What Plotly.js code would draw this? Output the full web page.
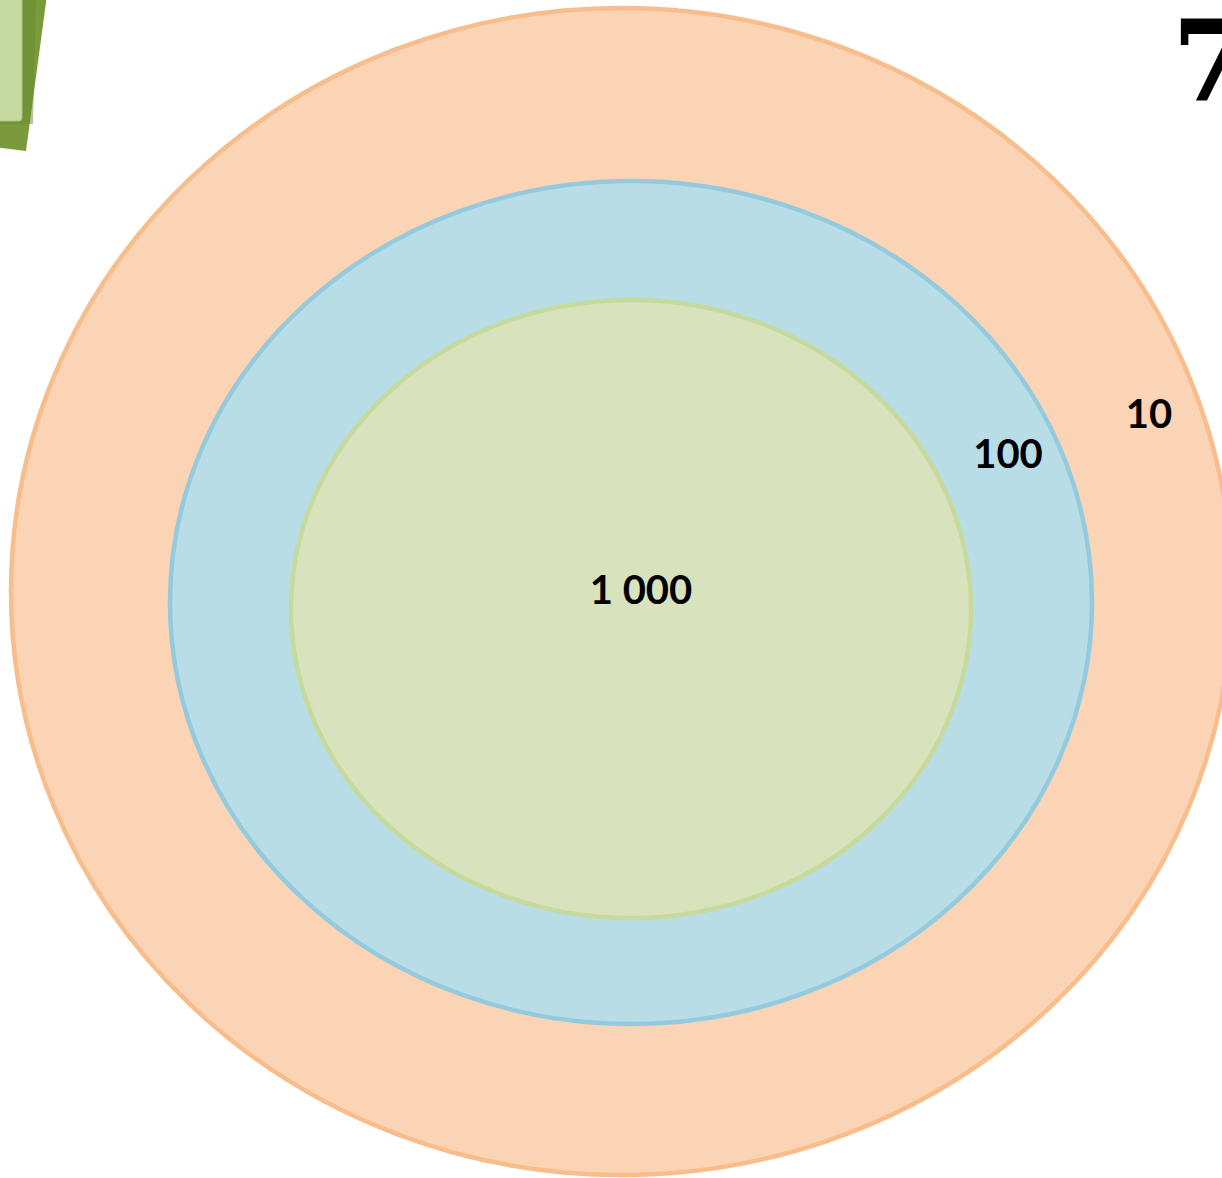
<!DOCTYPE html>
<html>
<head>
<meta charset="utf-8">
<script src="https://cdn.plot.ly/plotly-3.0.1.min.js"></script>
<style>
html,body{margin:0;padding:0;background:#fff;overflow:hidden;}
#chart{width:1222px;height:1178px;}
</style>
</head>
<body>
<div id="chart"></div>
<script>
// Nested levels (outer to inner)
const levels = ["10", "100", "1 000"];
const ellipseX0 = [11, 170, 291];
const ellipseX1 = [1232, 1092, 971];
const ellipseY0 = [8, 181, 300];
const ellipseY1 = [1175, 1024, 918];
const labelX = [1149, 1008, 641];
const labelY = [418, 458, 594];
const fills = ["#FAD4B4", "#B8DDE7", "#D8E3BE"];
const borders = ["#F8BD8A", "#93CADD", "#C6DA9C"];

// Decorative elements (page number, cropped green tab)
const pageNumber = "7";
const pageNumberX = [1172];
const pageNumberY = [72];

const shapes = [];
// green decorative tab at top-left
shapes.push({type:'path', xref:'x', yref:'y', path:'M -5 -5 L 47 -5 L 26 151 L -5 147 Z',
  fillcolor:'#7A9A3C', line:{width:0}, layer:'above'});
shapes.push({type:'path', xref:'x', yref:'y', path:'M -5 -5 L 36 -5 L 33 124 L -5 124 Z',
  fillcolor:'#6A8A32', line:{width:0}, opacity:0.5, layer:'above'});
shapes.push({type:'path', xref:'x', yref:'y', path:'M -5 -5 L 22 -5 L 22 118 Q 22 121 19 121 L -5 121 Z',
  fillcolor:'#C6D9A1', line:{width:1, color:'#A9C27A'}, layer:'above'});

for (let i = 0; i < levels.length; i++) {
  shapes.push({
    type:'circle', xref:'x', yref:'y',
    x0: ellipseX0[i], x1: ellipseX1[i], y0: ellipseY0[i], y1: ellipseY1[i],
    fillcolor: fills[i], line:{color: borders[i], width:4.5}, layer:'below'
  });
}

const traces = [{
  type:'scatter', mode:'text', x: labelX, y: labelY, text: levels,
  textfont:{family:'Lato, "Open Sans", sans-serif', size:40, color:'#000', weight:700},
  hoverinfo:'none', showlegend:false, cliponaxis:false
}, {
  type:'scatter', mode:'text', x: pageNumberX, y: pageNumberY, text:[pageNumber],
  textposition:'middle right',
  textfont:{family:'"DejaVu Serif", "Liberation Serif", serif', size:112, color:'#000', weight:700},
  hoverinfo:'none', showlegend:false, cliponaxis:false
}];

const layout = {
  width:1222, height:1178,
  margin:{l:0, r:0, t:0, b:0, pad:0},
  paper_bgcolor:'#ffffff', plot_bgcolor:'#ffffff',
  xaxis:{range:[0,1222], visible:false, fixedrange:true},
  yaxis:{range:[1178,0], visible:false, fixedrange:true},
  shapes: shapes,
  showlegend:false
};

Plotly.newPlot('chart', traces, layout, {staticPlot:true, displayModeBar:false});
</script>
</body>
</html>
